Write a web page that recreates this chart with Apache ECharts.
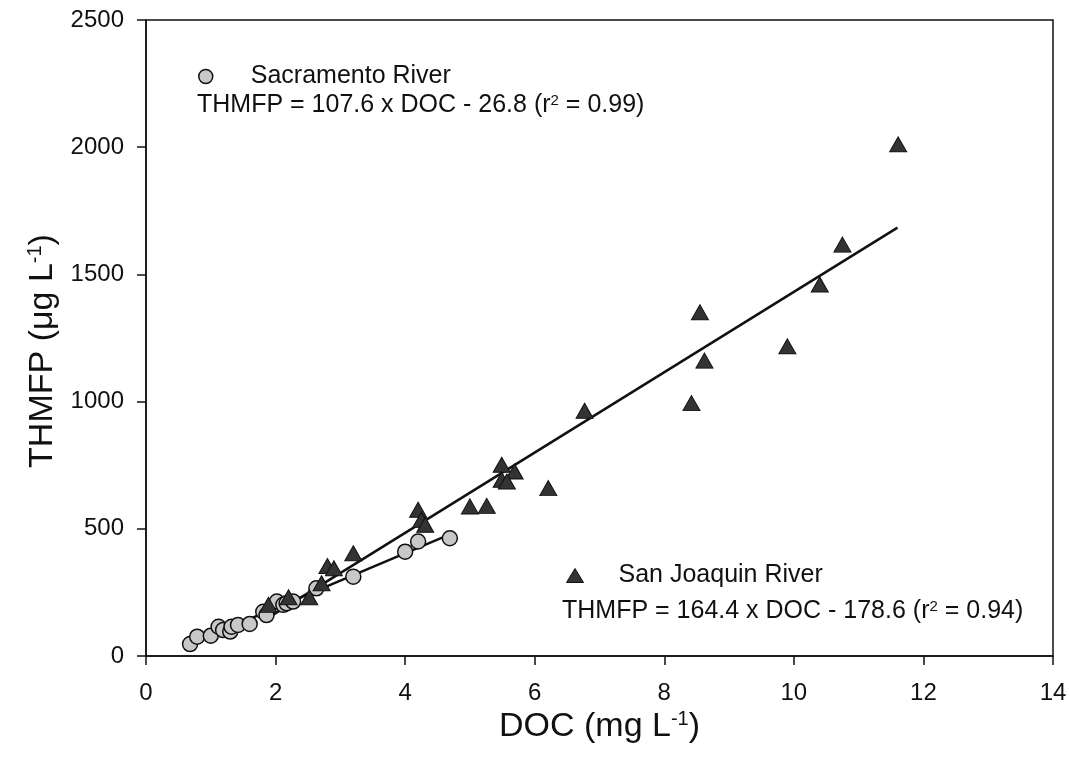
<!DOCTYPE html>
<html><head><meta charset="utf-8">
<script src="https://cdn.jsdelivr.net/npm/echarts@6/dist/echarts.min.js"></script>
<style>html,body{margin:0;padding:0;background:#fff}#c{width:1070px;height:765px}</style>
</head><body><div id="c"></div>
<script>
// Sacramento River (circles)
const sacDOC    = [0.68, 0.79, 1.00, 1.12, 1.19, 1.30, 1.32, 1.42, 1.60, 1.81, 1.86, 2.02, 2.12, 2.17, 2.27, 2.63, 3.20, 4.00, 4.20, 4.69];
const sacTHMFP  = [47,   76,   80,   115,  102,  96,   115,  122,  126,  174,  161,  214,  201,  207,  214,  266,  312,  410,  450,  463];
// San Joaquin River (triangles)
const sjDOC     = [11.61, 10.75, 10.40, 8.55, 8.62, 9.90, 8.42, 6.77, 5.49, 5.69, 6.21, 5.49, 5.57, 5.00, 5.26, 4.20, 4.25, 4.31, 3.20, 2.80, 2.90, 2.71, 2.52, 2.20, 1.89];
const sjTHMFP   = [2011,  1617,  1460,  1351, 1161, 1217, 994,  964,  752,  725,  660,  693,  686,  588,  590,  575,  535,  516,  404,  354,  345,  286,  231,  231,  201];
// regression lines (end points)
const sacFitDOC   = [0.68, 4.69];
const sacFitTHMFP = [47, 478];
const sjFitDOC    = [1.89, 11.6];
const sjFitTHMFP  = [151, 1684];

const seriesNames = ['Sacramento River', 'San Joaquin River'];
const equations = ['THMFP = 107.6 x DOC - 26.8 (r{s|2} = 0.99)', 'THMFP = 164.4 x DOC - 178.6 (r{s|2} = 0.94)'];
const xTitle = 'DOC (mg L{s|-1})';
const yTitle = 'THMFP (\u03bcg L{s|-1})';

const FF = "'Liberation Sans', Arial, sans-serif";
const zip = (a, b) => a.map((v, i) => [v, b[i]]);
const supRich = (fs) => ({ s: { fontSize: fs, fontFamily: FF, color: '#111', verticalAlign: 'top' } });

const chart = echarts.init(document.getElementById('c'), null, { renderer: 'canvas' });
chart.setOption({
  animation: false,
  backgroundColor: '#fff',
  grid: { left: 146, right: 17, top: 20, bottom: 109, show: true, borderColor: '#111', borderWidth: 1.5, backgroundColor: 'transparent' },
  xAxis: {
    type: 'value', min: 0, max: 14, interval: 2,
    axisLine: { show: true, onZero: false, lineStyle: { color: '#111', width: 1.5 } },
    axisTick: { show: true, inside: false, length: 9, lineStyle: { color: '#111', width: 1.5 } },
    axisLabel: { fontSize: 24, fontFamily: FF, color: '#111', margin: 25, formatter: v => String(v) },
    splitLine: { show: false },
    name: xTitle, nameLocation: 'middle', nameGap: 42,
    nameTextStyle: { fontSize: 34, fontFamily: FF, color: '#111', rich: supRich(20) }
  },
  yAxis: {
    type: 'value', min: 0, max: 2500, interval: 500,
    axisLine: { show: true, onZero: false, lineStyle: { color: '#111', width: 1.5 } },
    axisTick: { show: true, inside: false, length: 9, lineStyle: { color: '#111', width: 1.5 } },
    axisLabel: { fontSize: 24, fontFamily: FF, color: '#111', margin: 22, formatter: v => String(v) },
    splitLine: { show: false },
    name: yTitle, nameLocation: 'middle', nameGap: 86, nameRotate: 90,
    nameTextStyle: { fontSize: 34, fontFamily: FF, color: '#111', rich: supRich(20), padding: [0, 26, 0, 0] }
  },
  legend: [
    { data: [seriesNames[0]], left: 198, top: 64, padding: 0, itemWidth: 14, itemHeight: 14,
      textStyle: { fontSize: 25, fontFamily: FF, color: '#111', padding: [0, 0, 0, 33] },
      itemStyle: { borderColor: '#111', borderWidth: 1.5 } },
    { data: [seriesNames[1]], left: 566, top: 563, padding: 0, itemWidth: 17, itemHeight: 14,
      textStyle: { fontSize: 25, fontFamily: FF, color: '#111', padding: [0, 0, 0, 30] },
      itemStyle: { borderColor: '#111', borderWidth: 1 } }
  ],
  graphic: [
    { type: 'text', left: 197, top: 93, style: { text: equations[0], font: '25px ' + FF, fill: '#111', rich: supRich(15) } },
    { type: 'text', left: 562, top: 599, style: { text: equations[1], font: '25px ' + FF, fill: '#111', rich: supRich(15) } }
  ],
  series: [
    { type: 'line', name: 'sacFit', data: zip(sacFitDOC, sacFitTHMFP), showSymbol: false, silent: true,
      lineStyle: { color: '#111', width: 2.5 }, z: 1 },
    { type: 'line', name: 'sjFit', data: zip(sjFitDOC, sjFitTHMFP), showSymbol: false, silent: true,
      lineStyle: { color: '#111', width: 2.5 }, z: 1 },
    { type: 'scatter', name: seriesNames[0], data: zip(sacDOC, sacTHMFP), symbol: 'circle', symbolSize: 15,
      itemStyle: { color: '#c8c8c8', borderColor: '#111', borderWidth: 1.5, opacity: 1 }, z: 3 },
    { type: 'scatter', name: seriesNames[1], data: zip(sjDOC, sjTHMFP), symbol: 'triangle', symbolSize: [17, 15],
      itemStyle: { color: '#333333', borderColor: '#111', borderWidth: 1, opacity: 1 }, z: 4 }
  ]
});
</script></body></html>
